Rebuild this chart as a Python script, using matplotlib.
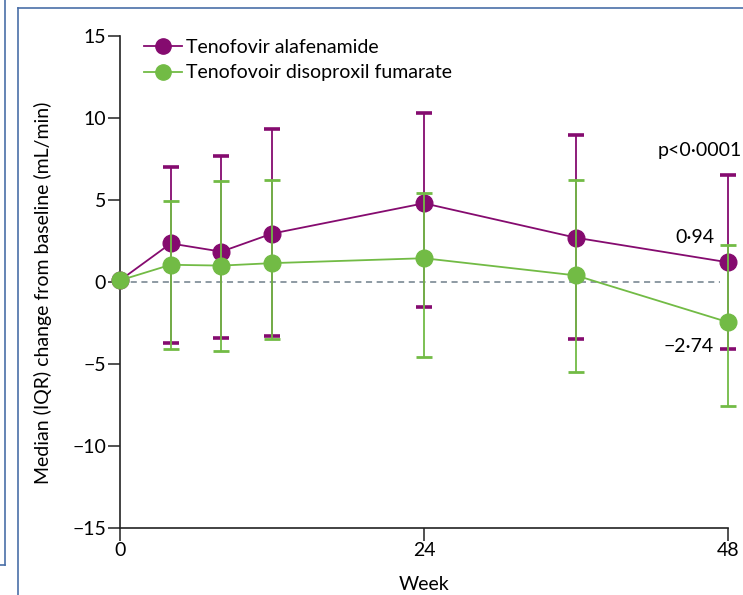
import matplotlib.pyplot as plt
from matplotlib.lines import Line2D
import numpy as np

plt.rcParams['font.family'] = ['Lato', 'DejaVu Sans']

weeks = [0, 4, 8, 12, 24, 36, 48]

# tenofovir alafenamide
taf_med = [0.1, 2.35, 1.85, 2.95, 4.8, 2.7, 1.2]
taf_hi = [0.1, 7.0, 7.7, 9.3, 10.3, 8.95, 6.5]
taf_lo = [0.1, -3.7, -3.4, -3.3, -1.5, -3.5, -4.1]

# tenofovir disoproxil fumarate
tdf_med = [0.1, 1.05, 1.0, 1.15, 1.45, 0.4, -2.45]
tdf_hi = [0.1, 4.95, 6.15, 6.25, 5.4, 6.25, 2.25]
tdf_lo = [0.1, -4.1, -4.2, -3.45, -4.6, -5.5, -7.55]

purple = "#850b6f"
green = "#72bb45"

fig = plt.figure(figsize=(7.43, 5.95), dpi=100)
ax = fig.add_axes([120/743, 1-528/595, 608/743, 492/595])

# frame lines around the panel
frame_col = "#4a6fa8"
fig.add_artist(Line2D([5/743, 5/743], [1, 1-565/595], color=frame_col, lw=1.2))
fig.add_artist(Line2D([0, 5/743], [1-565/595, 1-565/595], color=frame_col, lw=1.2))
fig.add_artist(Line2D([18/743, 18/743], [0, 1-8/595], color=frame_col, lw=1.2))
fig.add_artist(Line2D([18/743, 1], [1-8/595, 1-8/595], color=frame_col, lw=1.2))

ax.plot([0, 47.4], [0, 0], ls=(0, (4, 3)), color="#6f7f8a", lw=1.1, zorder=1)

def draw(med, lo, hi, col, capt, z):
    med = np.array(med)
    yerr = [med - np.array(lo), np.array(hi) - med]
    ax.errorbar(weeks[1:], med[1:], yerr=[yerr[0][1:], yerr[1][1:]], fmt="none",
                ecolor=col, elinewidth=1.3, capsize=5.5, capthick=capt,
                zorder=z, clip_on=False)
    ax.plot(weeks, med, color=col, lw=1.3, marker="o", ms=12, zorder=z + 1,
            clip_on=False)

draw(taf_med, taf_lo, taf_hi, purple, 2.6, 3)
draw(tdf_med, tdf_lo, tdf_hi, green, 2.0, 5)

ax.set_xlim(0, 48)
ax.set_ylim(-15, 15)
ax.set_xticks([0, 24, 48])
ax.set_yticks([-15, -10, -5, 0, 5, 10, 15])
ax.set_yticklabels(["\u221215", "\u221210", "\u22125", "0", "5", "10", "15"])
for s in ["top", "right"]:
    ax.spines[s].set_visible(False)
for s in ["left", "bottom"]:
    ax.spines[s].set_color("#222222")
    ax.spines[s].set_linewidth(1.2)
ax.tick_params(direction="out", length=9, width=1.1, color="#222222",
               labelsize=14, pad=1)

ax.set_xlabel("Week", fontsize=14, labelpad=12)
ax.set_ylabel("Median (IQR) change from baseline (mL/min)", fontsize=14)
ax.yaxis.set_label_coords(-0.112, 0.478)

ax.text(49.1, 8.0, "p<0\u00b70001", ha="right", va="center", fontsize=14)
ax.text(46.9, 2.7, "0\u00b794", ha="right", va="center", fontsize=14)
ax.text(46.9, -3.95, "\u22122\u00b774", ha="right", va="center", fontsize=14)

h1 = Line2D([], [], color=purple, marker="o", ms=11, lw=1.3)
h2 = Line2D([], [], color=green, marker="o", ms=11, lw=1.3)
ax.legend([h1, h2], ["Tenofovir alafenamide", "Tenofovoir disoproxil fumarate"],
          loc="upper left", bbox_to_anchor=(0.01, 1.03), frameon=False,
          fontsize=14, handlelength=2.0, handletextpad=0.2, labelspacing=0.45)

fig.savefig("out.png", dpi=100)
